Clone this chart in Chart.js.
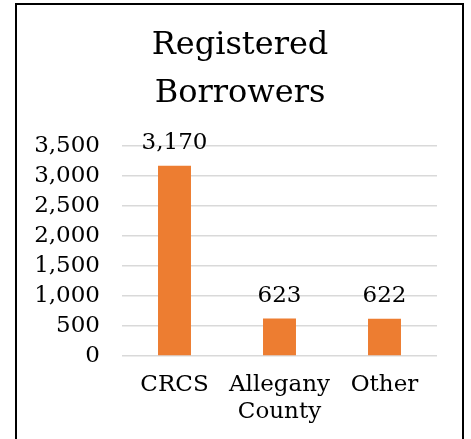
<!DOCTYPE html>
<html>
<head>
<meta charset="utf-8">
<script src="https://cdn.jsdelivr.net/npm/chart.js@4/dist/chart.umd.min.js"></script>
<style>
	html, body { margin: 0; padding: 0; background: #fff; overflow: hidden; }
	#frame { position: absolute; left: 15px; top: 3px; width: 449px; height: 460px; border: 2px solid #000; box-sizing: border-box; }
	#wrap { position: absolute; left: 0; top: 0; width: 471px; height: 439px; }
</style>
</head>
<body>
<div id="frame"></div>
<div id="wrap"><canvas id="chart"></canvas></div>
<script>
// Chart data
const categories = [['CRCS'], ['Allegany', 'County'], ['Other']];
const borrowers = [3170, 623, 622];
const yTickValues = [0, 500, 1000, 1500, 2000, 2500, 3000, 3500];
const yTickLabels = ['0', '500', '1,000', '1,500', '2,000', '2,500', '3,000', '3,500'];

const FONT = "'DejaVu Serif', 'Liberation Serif', serif";

// Value labels above each bar
const barLabels = {
	id: 'barLabels',
	afterDatasetsDraw(chart) {
		const ctx = chart.ctx;
		const meta = chart.getDatasetMeta(0);
		ctx.save();
		ctx.font = `23px ${FONT}`;
		ctx.fillStyle = '#000';
		ctx.textAlign = 'center';
		ctx.textBaseline = 'alphabetic';
		meta.data.forEach((bar, i) => {
			ctx.fillText(borrowers[i].toLocaleString('en-US'), bar.x, bar.y - 17);
		});
		ctx.restore();
	}
};

new Chart(document.getElementById('chart'), {
	type: 'bar',
	data: {
		labels: categories,
		datasets: [{
			data: borrowers,
			backgroundColor: '#ED7D31',
			barPercentage: 0.314,
			categoryPercentage: 1
		}]
	},
	options: {
		responsive: true,
		maintainAspectRatio: false,
		animation: false,
		layout: { padding: { left: 9, right: 0, top: 0, bottom: 0 } },
		plugins: {
			legend: { display: false },
			tooltip: { enabled: false },
			title: {
				display: true,
				text: ['Registered', 'Borrowers'],
				color: '#000',
				font: { family: FONT, size: 32, weight: 'normal', lineHeight: 1.5 },
				padding: { top: 22, bottom: 28 }
			}
		},
		scales: {
			x: {
				grid: { display: false, drawTicks: false },
				border: { display: false },
				ticks: { color: '#000', font: { family: FONT, size: 23 }, padding: 15, maxRotation: 0 },
				afterFit(scale) { scale.height = 83; }
			},
			y: {
				min: 0,
				max: 3500,
				afterBuildTicks(scale) { scale.ticks = yTickValues.map(v => ({ value: v })); },
				grid: { color: '#d9d9d9', lineWidth: 1.5, drawTicks: false },
				border: { display: false },
				ticks: {
					color: '#000',
					font: { family: FONT, size: 23 },
					padding: 22,
					autoSkip: false,
					callback: (v) => yTickLabels[yTickValues.indexOf(v)]
				},
				afterFit(scale) { scale.width = 113; }
			},
			// empty right axis, only reserves space on the right
			yRight: {
				position: 'right',
				grid: { display: false, drawTicks: false },
				border: { display: false },
				ticks: { display: false },
				afterFit(scale) { scale.width = 34; }
			}
		}
	},
	plugins: [barLabels]
});
</script>
</body>
</html>
